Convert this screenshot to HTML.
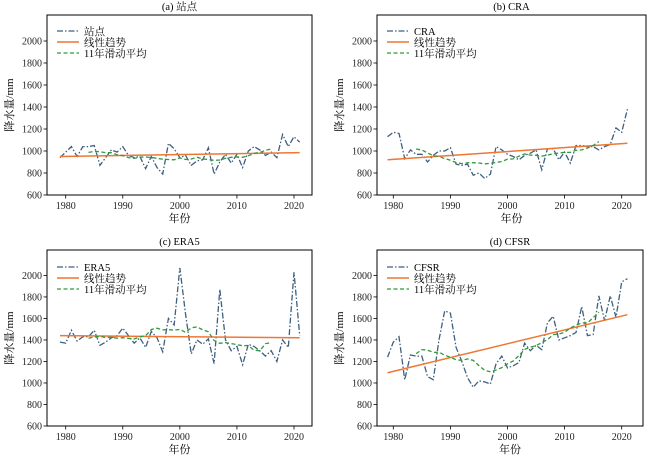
<!DOCTYPE html>
<html><head><meta charset="utf-8"><style>
body{margin:0;background:#fff}
svg{display:block;font-family:"Liberation Serif","Noto Serif CJK SC",serif}
</style></head><body>
<svg id="s" width="650" height="459" xmlns="http://www.w3.org/2000/svg"></svg>
<script>
const D={
a:[940,990,1040,950,1040,1040,1050,870,940,1010,990,1040,960,940,950,840,950,850,790,1070,1020,940,960,870,910,920,1030,790,900,970,890,970,850,1000,1040,1010,960,990,940,1150,1040,1130,1080],
b:[1130,1170,1160,930,1010,970,970,900,960,1000,1000,1030,880,870,880,780,800,750,790,1040,1010,970,950,920,960,980,1010,830,1020,1020,920,990,890,1050,1050,1040,1040,1010,1040,1060,1210,1170,1380],
c:[1380,1370,1490,1390,1430,1430,1490,1350,1380,1420,1440,1510,1440,1370,1420,1330,1480,1420,1290,1600,1540,2070,1640,1270,1400,1360,1410,1180,1870,1400,1300,1340,1170,1360,1340,1300,1250,1300,1200,1400,1330,2030,1440],
d:[1240,1380,1430,1030,1260,1250,1250,1060,1030,1400,1670,1650,1330,1200,1050,960,1020,1010,990,1180,1250,1140,1160,1190,1370,1300,1350,1310,1560,1620,1400,1420,1440,1470,1710,1440,1450,1810,1580,1810,1610,1940,1970]};
const P=[
{k:'a',t:'(a) 站点',n:'站点',L:47,R:312,T:15,B:195,x1980:65.7,x2020:294,tr:[950,985]},
{k:'b',t:'(b) CRA',n:'CRA',L:377,R:646,T:15,B:195,x1980:393.3,x2020:621.7,tr:[920,1070]},
{k:'c',t:'(c) ERA5',n:'ERA5',L:47,R:312,T:250,B:426,x1980:65.7,x2020:294,tr:[1440,1420]},
{k:'d',t:'(d) CFSR',n:'CFSR',L:377,R:643,T:250,B:426,x1980:393.3,x2020:621.7,tr:[1095,1635]}];
let h='';
for(const p of P){
 const y2000=p.B-(p.B-p.T)*(1400/1640)*0+0;
 const sy=(p.B-(p.T+26*(p.B-p.T)/180))/1400; // px per mm: 600..2000
 const Y=v=>p.B-(v-600)*sy, X=yr=>p.x1980+(yr-1980)*(p.x2020-p.x1980)/40;
 const d=D[p.k];
 // ticks
 for(let v=600;v<=2000;v+=200){h+=`<line x1="${p.L-3.5}" x2="${p.L}" y1="${Y(v)}" y2="${Y(v)}" stroke="#000" stroke-width="0.8"/><text x="${p.L-5}" y="${Y(v)+3.5}" font-size="10" text-anchor="end" fill="#222">${v}</text>`}
 for(let yr=1980;yr<=2020;yr+=10){h+=`<line x1="${X(yr)}" x2="${X(yr)}" y1="${p.B}" y2="${p.B+3.5}" stroke="#000" stroke-width="0.8"/><text x="${X(yr)}" y="${p.B+14}" font-size="10" text-anchor="middle" fill="#222">${yr}</text>`}
 // series
 h+=`<polyline fill="none" stroke="#3e5f80" stroke-width="1.3" stroke-dasharray="6,2,1.5,2" points="${d.map((v,i)=>X(1979+i)+','+Y(v)).join(' ')}"/>`;
 h+=`<line x1="${X(1979)}" y1="${Y(p.tr[0])}" x2="${X(2021)}" y2="${Y(p.tr[1])}" stroke="#ee7733" stroke-width="1.5"/>`;
 let ma=[];for(let i=5;i<d.length-5;i++){let s=0;for(let j=-5;j<=5;j++)s+=d[i+j];ma.push(X(1979+i)+','+Y(s/11))}
 h+=`<polyline fill="none" stroke="#2f9a3c" stroke-width="1.3" stroke-dasharray="4,2.5" points="${ma.join(' ')}"/>`;
 h+=`<rect x="${p.L}" y="${p.T}" width="${p.R-p.L}" height="${p.B-p.T}" fill="none" stroke="#000" stroke-width="1"/>`;
 // legend
 const lx=p.L+10,ly=p.T+(p.k=='c'||p.k=='d'?17:16);
 h+=`<line x1="${lx}" x2="${lx+22}" y1="${ly}" y2="${ly}" stroke="#3e5f80" stroke-width="1.3" stroke-dasharray="6,2,1.5,2"/><text x="${lx+27}" y="${ly+4}" font-size="10.5">${p.n}</text>`;
 h+=`<line x1="${lx}" x2="${lx+22}" y1="${ly+11}" y2="${ly+11}" stroke="#ee7733" stroke-width="1.5"/><text x="${lx+27}" y="${ly+15}" font-size="10.5">线性趋势</text>`;
 h+=`<line x1="${lx}" x2="${lx+22}" y1="${ly+22}" y2="${ly+22}" stroke="#2f9a3c" stroke-width="1.3" stroke-dasharray="4,2.5"/><text x="${lx+27}" y="${ly+26}" font-size="10.5">11年滑动平均</text>`;
 // titles
 h+=`<text x="${(p.L+p.R)/2}" y="${p.T-5}" font-size="10.5" text-anchor="middle">${p.t}</text>`;
 h+=`<text x="${(p.L+p.R)/2}" y="${p.B+27}" font-size="11" text-anchor="middle">年份</text>`;
 const ax=p.L-34, ay=(p.T+p.B)/2;
 h+=`<text x="${ax}" y="${ay}" font-size="11" text-anchor="middle" transform="rotate(-90 ${ax} ${ay})">降水量/mm</text>`;
}
document.getElementById('s').innerHTML=h;
</script>
</body></html>
